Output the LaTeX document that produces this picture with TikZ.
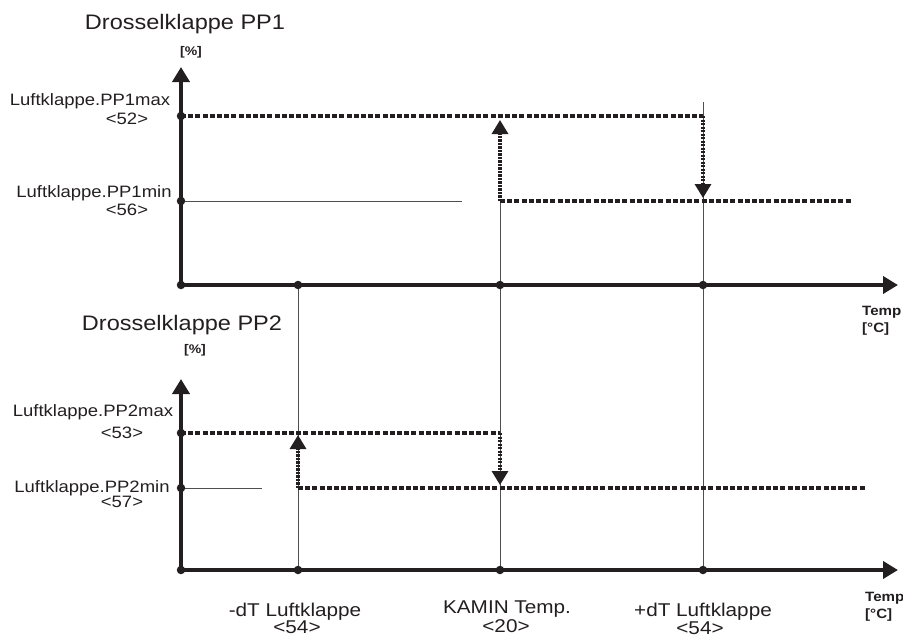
\documentclass[tikz,border=0pt]{standalone}
\usepackage{fontspec}
\setmainfont{Liberation Sans}[FakeStretch=1.12]
\usetikzlibrary{arrows.meta}
\definecolor{ink}{RGB}{35,31,32}
\definecolor{thinline}{RGB}{80,78,78}

\begin{document}
\begin{tikzpicture}[x=1pt,y=-1pt,
    axis/.style={ink,line width=4.5pt,-{Triangle[length=15pt,width=17pt]}},
    level/.style={ink,line width=3.5pt,dash pattern=on 5pt off 2.2pt},
    switch/.style={ink,line width=3.2pt,dash pattern=on 2.2pt off 1.3pt,-{Triangle[length=14pt,width=16pt]}},
    guide/.style={thinline,line width=1pt},
    dot/.style={circle,fill=ink,inner sep=0pt,minimum size=8.5pt},
    title/.style={inner sep=0pt,anchor=base,text=ink,font=\fontsize{21}{24}\selectfont},
    lbl/.style={inner sep=0pt,anchor=base,text=ink,font=\fontsize{16.5}{19}\selectfont},
    tlbl/.style={inner sep=0pt,anchor=base,text=ink,font=\fontsize{18.5}{21}\selectfont},
    pct/.style={inner sep=0pt,anchor=base,text=ink,font=\bfseries\fontsize{12.5}{14}\selectfont},
    unit/.style={inner sep=0pt,anchor=base west,text=ink,font=\bfseries\fontsize{13.5}{15}\selectfont}]
    \useasboundingbox (0,0) rectangle (903,638);

    % upper chart
    \coordinate (o1) at (181,285);
    \coordinate (y1) at (181,67);
    \coordinate (x1) at (898,285);
    \coordinate (max1) at (181,116);
    \coordinate (min1) at (181,201);
    \coordinate (t1) at (298,285);
    \coordinate (k1) at (500,285);
    \coordinate (p1) at (703,285);
    \coordinate (max1e) at (703,116);
    \coordinate (max1d) at (703,198);
    \coordinate (min1s) at (500,201);
    \coordinate (min1u) at (500,120);
    \coordinate (min1e) at (851,201);
    \coordinate (min1g) at (462,201);
    \coordinate (p1top) at (703,102);

    % lower chart
    \coordinate (o2) at (181,570);
    \coordinate (y2) at (181,379);
    \coordinate (x2) at (898,570);
    \coordinate (max2) at (181,433);
    \coordinate (min2) at (181,488);
    \coordinate (t2) at (298,570);
    \coordinate (k2) at (500,570);
    \coordinate (p2) at (703,570);
    \coordinate (max2e) at (500,433);
    \coordinate (max2d) at (500,485);
    \coordinate (min2s) at (298,488);
    \coordinate (min2u) at (298,435);
    \coordinate (min2e) at (866,488);
    \coordinate (min2g) at (262,488);

    % thin guides
    \draw[guide] (min1) -- (min1g);
    \draw[guide] (min2) -- (min2g);
    \draw[guide] (p1top) -- (p2);
    \draw[guide] (min1s) -- (k2);
    \draw[guide] (t1) -- (t2);

    % dotted levels
    \draw[level] (max1) -- (max1e);
    \draw[switch] (max1e) -- (max1d);
    \draw[level] (min1s) -- (min1e);
    \draw[switch] (min1s) -- (min1u);
    \draw[level] (max2) -- (max2e);
    \draw[switch] (max2e) -- (max2d);
    \draw[level] (min2s) -- (min2e);
    \draw[switch] (min2s) -- (min2u);

    % axes
    \draw[axis] (o1) -- (y1);
    \draw[axis] (o1) -- (x1);
    \draw[axis] (o2) -- (y2);
    \draw[axis] (o2) -- (x2);

    \foreach \p in {o1,max1,min1,t1,k1,p1,o2,max2,min2,t2,k2,p2}
        \node[dot] at (\p) {};

    % texts
    \node[title] (ttl1) at (185,29) {Drosselklappe PP1};
    \node[pct] (pct1) at (191,55) {[\%]};
    \node[title] (ttl2) at (182,330) {Drosselklappe PP2};
    \node[pct] (pct2) at (195,353) {[\%]};

    \node[lbl] (lmax1) at (90,105) {Luftklappe.PP1max};
    \node[lbl] (nmax1) at (127,124) {<52>};
    \node[lbl] (lmin1) at (94,197) {Luftklappe.PP1min};
    \node[lbl] (nmin1) at (127,215) {<56>};
    \node[lbl] (lmax2) at (93,416) {Luftklappe.PP2max};
    \node[lbl] (nmax2) at (122,438) {<53>};
    \node[lbl] (lmin2) at (92,492) {Luftklappe.PP2min};
    \node[lbl] (nmin2) at (122,507) {<57>};

    \node[unit] (temp1) at (862,315) {Temp};
    \node[unit] (deg1) at (862,332) {[°C]};
    \node[unit] (temp2) at (865,601) {Temp};
    \node[unit] (deg2) at (865,618) {[°C]};

    \node[tlbl] (ldt) at (295,616) {-dT Luftklappe};
    \node[tlbl] (ndt) at (297,633) {<54>};
    \node[tlbl] (lkt) at (507,613) {KAMIN Temp.};
    \node[tlbl] (nkt) at (506,632) {<20>};
    \node[tlbl] (lpt) at (703,616) {+dT Luftklappe};
    \node[tlbl] (npt) at (700,634) {<54>};
\end{tikzpicture}
\end{document}
